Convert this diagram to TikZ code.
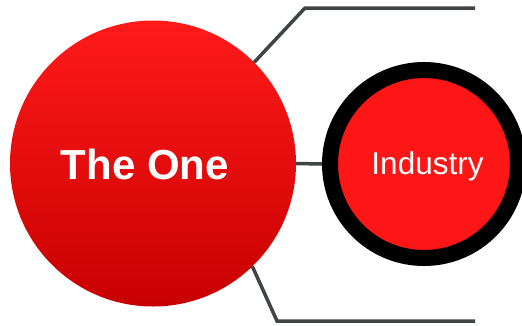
\documentclass[tikz,border=0pt]{standalone}
\usepackage{fontspec}
\setmainfont{Liberation Sans}
\definecolor{redtop}{RGB}{255,26,26}
\definecolor{redbot}{RGB}{200,0,0}
\definecolor{redfill}{RGB}{253,22,22}
\definecolor{linegray}{RGB}{64,68,68}
\begin{document}
\begin{tikzpicture}[x=1pt,y=-1pt,
  bigcircle/.style={circle, minimum size=286pt, inner sep=0pt, outer sep=0pt,
    top color=redtop, bottom color=redbot},
  ringcircle/.style={circle, minimum size=188pt, inner sep=0pt, draw=black,
    line width=16pt, fill=redfill},
  bigtext/.style={text=white, inner sep=0pt, font=\fontsize{42}{48}\selectfont\bfseries},
  ringtext/.style={text=white, inner sep=0pt, font=\fontsize{31.5}{36}\selectfont},
  conn/.style={draw=linegray, line width=3.5pt}]
\useasboundingbox (0,0) rectangle (522,325);
\node[bigcircle] (one) at (153,163.5) {};
\node[ringcircle] (ind) at (424,164) {};
\node[bigtext] (onetext) at (145,164.5) {The One};
\node[ringtext] (indtext) at (427.5,166) {Industry};
\coordinate (tbend) at (305,8);
\coordinate (tend) at (475,8);
\coordinate (bbend) at (277,321);
\coordinate (bend) at (475,321);
\draw[conn] (one.45) -- (tbend) -- (tend);
\draw[conn] (one.-46) -- (bbend) -- (bend);
\draw[conn] (one.east) -- (ind.west);
\end{tikzpicture}
\end{document}
